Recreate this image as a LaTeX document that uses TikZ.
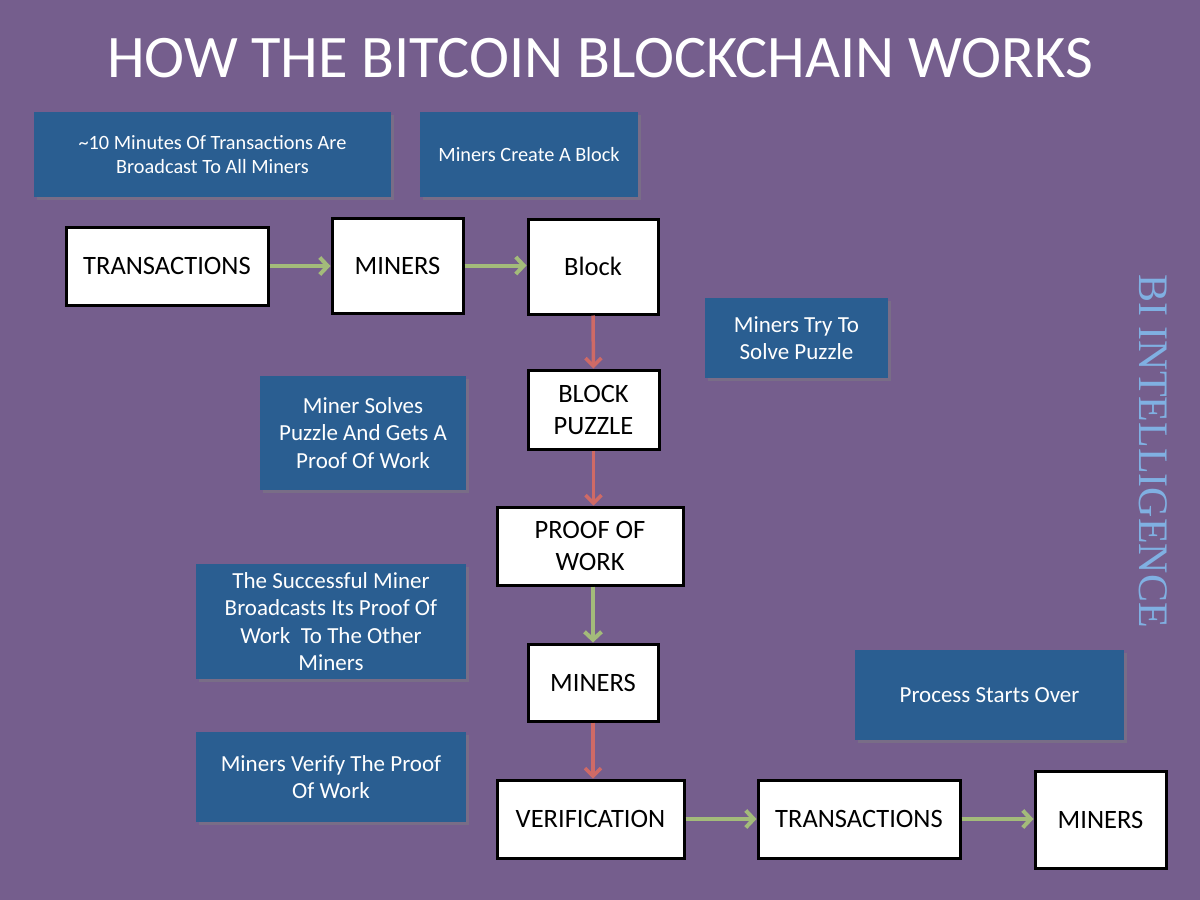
\documentclass[tikz,border=0pt]{standalone}
\usepackage{fontspec}
\setmainfont{Carlito}
\newfontfamily\biserif{Liberation Serif}
\usetikzlibrary{arrows.meta,shadows}
\definecolor{bgpurple}{RGB}{117,94,141}
\definecolor{boxblue}{RGB}{42,94,145}
\definecolor{arrgreen}{RGB}{163,187,122}
\definecolor{arrred}{RGB}{207,106,102}
\definecolor{bilight}{RGB}{128,176,226}
\tikzset{
  wbox/.style={draw=black, fill=white, line width=3pt, align=center,
    font=\fontsize{26.5}{32}\selectfont, inner sep=0pt,
    drop shadow={shadow xshift=2pt,shadow yshift=-2pt,opacity=.35}},
  bbox/.style={fill=boxblue, text=white, align=center, inner sep=0pt,
    font=\fontsize{23}{27.5}\selectfont,
    drop shadow={shadow xshift=3pt,shadow yshift=-3pt,opacity=.45}},
  bboxs/.style={bbox, font=\fontsize{20.3}{24}\selectfont},
  garrow/.style={draw=arrgreen, line width=4pt, -{Straight Barb[length=8pt,width=17pt]}},
  rarrow/.style={draw=arrred, line width=3.5pt, -{Straight Barb[length=8pt,width=16pt]}},
}
\begin{document}
\begin{tikzpicture}[x=1pt,y=-1pt]
\fill[bgpurple] (0,0) rectangle (1200,900);
\useasboundingbox (0,0) rectangle (1200,900);
% title
\node[text=white, font=\fontsize{60.4}{68}\selectfont] (title) at (600,58) {HOW THE BITCOIN BLOCKCHAIN WORKS};
% vertical label
\node[text=bilight, rotate=-90, font=\biserif\fontsize{42}{46}\selectfont] (bi) at (1153,451) {BI INTELLIGENCE};
% blue info boxes
\node[bboxs, minimum width=357pt, minimum height=85pt] (b1) at (212.5,154.5) {\textasciitilde10 Minutes Of Transactions Are\\Broadcast To All Miners};
\node[bboxs, minimum width=218pt, minimum height=85pt] (b2) at (529,154.5) {Miners Create A Block};
\node[bbox, minimum width=183pt, minimum height=80pt] (b3) at (796.5,338) {Miners Try To\\Solve Puzzle};
\node[bbox, minimum width=206pt, minimum height=114pt] (b4) at (363,433) {Miner Solves\\Puzzle And Gets A\\Proof Of Work};
\node[bbox, minimum width=270pt, minimum height=115pt] (b5) at (331,621.5) {The Successful Miner\\Broadcasts Its Proof Of\\Work\ \ To The Other\\Miners};
\node[bbox, minimum width=269pt, minimum height=90pt] (b6) at (989.5,695) {Process Starts Over};
\node[bbox, minimum width=270pt, minimum height=90pt] (b7) at (331,777) {Miners Verify The Proof\\Of Work};
% white flow boxes
\node[wbox, minimum width=202pt, minimum height=78pt] (t1) at (167,266) {TRANSACTIONS};
\node[wbox, minimum width=131pt, minimum height=95pt] (m1) at (397.5,265.5) {MINERS};
\node[wbox, minimum width=130pt, minimum height=95pt] (blk) at (593,266.5) {Block};
\node[wbox, minimum width=131pt, minimum height=79pt] (pz) at (593.5,409.5) {BLOCK\\PUZZLE};
\node[wbox, minimum width=186pt, minimum height=78pt] (pow) at (590,546) {PROOF OF\\WORK};
\node[wbox, minimum width=130pt, minimum height=77pt] (m2) at (593,682.5) {MINERS};
\node[wbox, minimum width=187pt, minimum height=78pt] (ver) at (590.5,819) {VERIFICATION};
\node[wbox, minimum width=202pt, minimum height=78pt] (t2) at (859,819) {TRANSACTIONS};
\node[wbox, minimum width=131pt, minimum height=97pt] (m3) at (1100.5,819.5) {MINERS};
% connectors
\draw[garrow] (t1.east) -- (t1.east -| m1.west);
\draw[garrow] (m1.east) -- (m1.east -| blk.west);
\draw[rarrow] (blk.south) -- (pz.north);
\draw[rarrow] (pz.south) -- (pz.south |- pow.north);
\draw[garrow] (pow.south -| m2.north) -- (m2.north);
\draw[rarrow] (m2.south) -- (m2.south |- ver.north);
\draw[garrow] (ver.east) -- (ver.east -| t2.west);
\draw[garrow] (t2.east) -- (t2.east -| m3.west);
\end{tikzpicture}
\end{document}
